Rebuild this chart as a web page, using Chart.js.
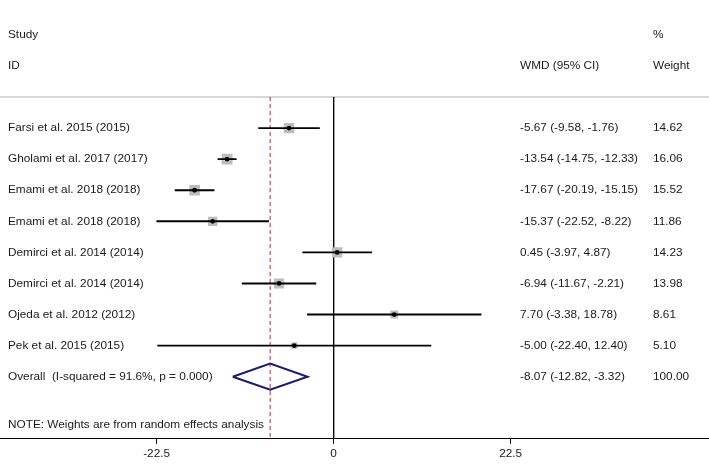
<!DOCTYPE html>
<html>
<head>
<meta charset="utf-8">
<script src="https://cdn.jsdelivr.net/npm/chart.js@4"></script>
<style>
  html, body { margin: 0; padding: 0; background: #fff; }
  #forest { display: block; }
</style>
</head>
<body>
<canvas id="forest" width="709" height="464"></canvas>
<script>
// study rows
var studies = [
    'Farsi et al. 2015 (2015)',
    'Gholami et al. 2017 (2017)',
    'Emami et al. 2018 (2018)',
    'Emami et al. 2018 (2018)',
    'Demirci et al. 2014 (2014)',
    'Demirci et al. 2014 (2014)',
    'Ojeda et al. 2012 (2012)',
    'Pek et al. 2015 (2015)'
];
var wmd = [-5.67, -13.54, -17.67, -15.37, 0.45, -6.94, 7.70, -5.00];
var lower = [-9.58, -14.75, -20.19, -22.52, -3.97, -11.67, -3.38, -22.40];
var upper = [-1.76, -12.33, -15.15, -8.22, 4.87, -2.21, 18.78, 12.40];
var weights = [14.62, 16.06, 15.52, 11.86, 14.23, 13.98, 8.61, 5.10];

// pooled estimate
var overallLabel = 'Overall  (I-squared = 91.6%, p = 0.000)';
var overall = [-8.07, -12.82, -3.32];
var overallWeight = 100.00;

var tickVals = [-22.5, 0, 22.5];
var noteText = 'NOTE: Weights are from random effects analysis';

var FONT = '"Liberation Sans", Arial, sans-serif';
var TEXT_COLOR = '#1a1a1a';

function ciText(e, l, u) {
    return e.toFixed(2) + ' (' + l.toFixed(2) + ', ' + u.toFixed(2) + ')';
}

var datasets = [];
var overallRow = studies.length;

// frame lines: top rule, null line, pooled dashed line (drawn underneath)
datasets.push({
    data: [{x: -42.4, y: -1}, {x: 47.7, y: -1}],
    showLine: true, borderColor: '#b0b0b0', borderWidth: 1.2,
    pointRadius: 0, clip: false, order: 9
});
datasets.push({
    data: [{x: 0, y: -1}, {x: 0, y: 10}],
    showLine: true, borderColor: '#000', borderWidth: 1,
    pointRadius: 0, order: 8
});
datasets.push({
    data: [{x: overall[0], y: -1}, {x: overall[0], y: 10}],
    showLine: true, borderColor: '#a8323c', borderWidth: 1, borderDash: [4, 3],
    pointRadius: 0, order: 7
});

// weight boxes
datasets.push({
    data: wmd.map(function (v, i) { return {x: v, y: i}; }),
    pointStyle: 'rect',
    pointRadius: weights.map(function (w) { return 2.7 * Math.sqrt(w) / Math.SQRT2; }),
    backgroundColor: '#bdbdbd', borderWidth: 0, order: 6
});

// confidence intervals
wmd.forEach(function (v, i) {
    datasets.push({
        data: [{x: lower[i], y: i}, {x: upper[i], y: i}],
        showLine: true, borderColor: '#000', borderWidth: 1.9,
        pointRadius: 0, order: 5
    });
});

// point estimates on top
datasets.push({
    data: wmd.map(function (v, i) { return {x: v, y: i}; }),
    pointStyle: 'circle', pointRadius: 2.4,
    backgroundColor: '#000', borderWidth: 0, order: 1
});

// diamond
datasets.push({
    data: [
        {x: overall[1], y: overallRow},
        {x: overall[0], y: overallRow - 0.42},
        {x: overall[2], y: overallRow},
        {x: overall[0], y: overallRow + 0.42},
        {x: overall[1], y: overallRow}
    ],
    showLine: true, borderColor: '#1a1c6e', borderWidth: 2,
    pointRadius: 0, tension: 0, order: 2
});

var textPlugin = {
    id: 'forestText',
    afterDatasetsDraw: function (chart) {
        var ctx = chart.ctx;
        var ys = chart.scales.y;
        var colStudy = 8, colCI = 520, colW = 653;
        ctx.save();
        ctx.fillStyle = TEXT_COLOR;
        ctx.font = '11.8px ' + FONT;
        ctx.textBaseline = 'middle';
        ctx.textAlign = 'left';
        function put(t, x, row) { ctx.fillText(t, x, ys.getPixelForValue(row)); }
        put('Study', colStudy, -3);
        put('ID', colStudy, -2);
        put('%', colW, -3);
        put('WMD (95% CI)', colCI, -2);
        put('Weight', colW, -2);
        studies.forEach(function (s, i) {
            put(s, colStudy, i);
            put(ciText(wmd[i], lower[i], upper[i]), colCI, i);
            put(weights[i].toFixed(2), colW, i);
        });
        put(overallLabel, colStudy, overallRow);
        put(ciText(overall[0], overall[1], overall[2]), colCI, overallRow);
        put(overallWeight.toFixed(2), colW, overallRow);
        put(noteText, colStudy, 9.55);
        ctx.restore();
    }
};

new Chart(document.getElementById('forest'), {
    type: 'scatter',
    data: { datasets: datasets },
    options: {
        responsive: false,
        animation: false,
        events: [],
        layout: { autoPadding: false, padding: { top: 97, left: 0, right: 0, bottom: 0 } },
        plugins: { legend: { display: false }, tooltip: { enabled: false } },
        scales: {
            x: {
                type: 'linear', min: -42.4, max: 47.7,
                afterBuildTicks: function (axis) {
                    axis.ticks = tickVals.map(function (v) { return {value: v}; });
                },
                grid: { drawOnChartArea: false, drawTicks: true, tickLength: 5, color: '#000' },
                border: { display: true, color: '#000', width: 1 },
                ticks: {
                    font: { size: 11.8, family: FONT }, color: TEXT_COLOR,
                    padding: 3, maxRotation: 0, autoSkip: false,
                    callback: function (v) { return String(v); }
                }
            },
            y: { type: 'linear', display: false, reverse: true, min: -1, max: 10 }
        }
    },
    plugins: [textPlugin]
});
</script>
</body>
</html>
